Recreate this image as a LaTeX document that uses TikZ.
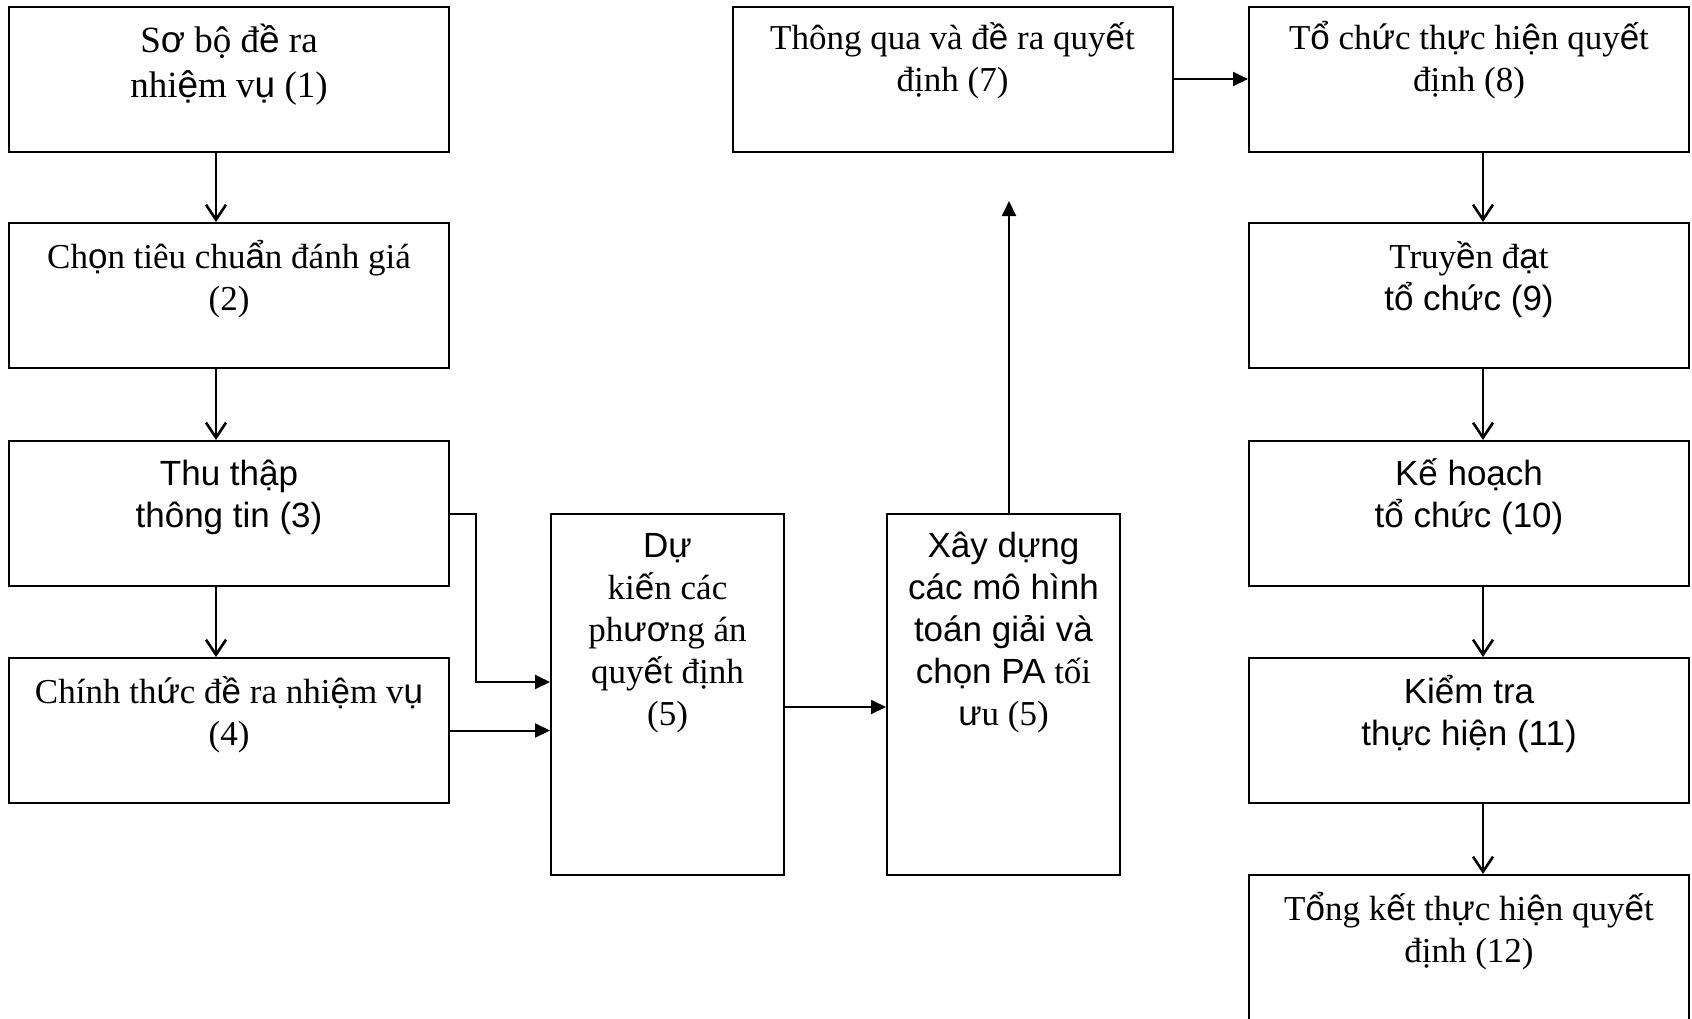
\documentclass[tikz,border=0pt]{standalone}
\usepackage{fontspec}
\setmainfont{Liberation Serif}
\newfontfamily\sansf{Liberation Sans}
\newcommand{\vn}[1]{{\sansf #1}}
\usetikzlibrary{arrows.meta,positioning}

\begin{document}
\begin{tikzpicture}[x=1pt,y=-1pt,
  box/.style={draw,line width=2pt,inner sep=0pt,minimum width=440pt,minimum height=145pt},
  tallbox/.style={draw,line width=2pt,inner sep=0pt,minimum width=233pt,minimum height=361pt},
  txt/.style={align=center,anchor=base,inner sep=0pt,font=\fontsize{35}{42}\selectfont},
  stxt/.style={txt,font=\fontsize{35}{42}\selectfont\sansf},
  openarr/.style={line width=2pt,-{Straight Barb[length=15pt,width=20pt,line width=2.6pt]}},
  fillarr/.style={line width=2pt,-{Triangle[length=15pt,width=14pt]}}]
\useasboundingbox (0,0) rectangle (1692,1018);

% left column
\node[box] (b1) at (229,79) {};
\node[box] (b2) at (229,295.5) {};
\node[box] (b3) at (229,513.5) {};
\node[box] (b4) at (229,730.5) {};

% middle
\node[tallbox] (b5) at (667.5,694.5) {};
\node[tallbox] (b6) at (1003.5,694.5) {};
\node[box] (b7) at (952.5,79) {};

% right column
\node[box] (b8) at (1469,79) {};
\node[box] (b9) at (1469,295.5) {};
\node[box] (b10) at (1469,513.5) {};
\node[box] (b11) at (1469,730.5) {};
\node[box] (b12) at (1469,947.5) {};

% texts (anchor base = last line)
\node[txt,font=\fontsize{37}{45}\selectfont] (t1) at ([yshift=-92pt]b1.north) {S\vn{ơ} bộ đ\vn{ề} ra\\nhi\vn{ệ}m v\vn{ụ} (1)};
\node[txt] (t2) at ([yshift=-88pt]b2.north) {Ch\vn{ọ}n tiêu chu\vn{ẩ}n đánh giá\\(2)};
\node[stxt] (t3) at ([yshift=-87pt]b3.north) {Thu thập\\thông tin (3)};
\node[txt] (t4) at ([yshift=-88pt]b4.north) {Chính th\vn{ứ}c đ\vn{ề} ra nhi\vn{ệ}m v\vn{ụ}\\(4)};
\node[txt] (t5) at ([yshift=-212pt]b5.north) {\vn{Dự}\\ki\vn{ế}n các\\ph\vn{ươ}ng án\\quy\vn{ế}t định\\(5)};
\node[txt] (t6) at ([yshift=-212pt]b6.north) {\vn{Xây dựng}\\\vn{các mô hình}\\\vn{toán giải và}\\\vn{chọn PA} tối\\\vn{ư}u (5)};
\node[txt] (t7) at ([yshift=-86pt]b7.north) {Thông qua và đ\vn{ề} ra quy\vn{ế}t\\định (7)};
\node[txt] (t8) at ([yshift=-86pt]b8.north) {T\vn{ổ} ch\vn{ứ}c th\vn{ự}c hi\vn{ệ}n quy\vn{ế}t\\định (8)};
\node[txt] (t9) at ([yshift=-88pt]b9.north) {Truy\vn{ề}n đ\vn{ạ}t\\\vn{tổ chức (9)}};
\node[stxt] (t10) at ([yshift=-87pt]b10.north) {Kế hoạch\\tổ chức (10)};
\node[stxt] (t11) at ([yshift=-88pt]b11.north) {Kiểm tra\\thực hiện (11)};
\node[txt] (t12) at ([yshift=-88pt]b12.north) {T\vn{ổ}ng k\vn{ế}t th\vn{ự}c hi\vn{ệ}n quy\vn{ế}t\\định (12)};

% arrows
\draw[openarr] ([xshift=-13pt]b1.south) -- ([xshift=-13pt]b2.north);
\draw[openarr] ([xshift=-13pt]b2.south) -- ([xshift=-13pt]b3.north);
\draw[openarr] ([xshift=-13pt]b3.south) -- ([xshift=-13pt]b4.north);
\draw[openarr] ([xshift=14pt]b8.south) -- ([xshift=14pt]b9.north);
\draw[openarr] ([xshift=14pt]b9.south) -- ([xshift=14pt]b10.north);
\draw[openarr] ([xshift=14pt]b10.south) -- ([xshift=14pt]b11.north);
\draw[openarr] ([xshift=14pt]b11.south) -- ([xshift=14pt]b12.north);

\draw[fillarr] (b3.east) -- ++(26,0) |- ([yshift=12.5pt]b5.west);
\draw[fillarr] (b4.east) -- (b4.east -| b5.west);
\draw[fillarr] ([yshift=-12.5pt]b5.east) -- ([yshift=-12.5pt]b5.east -| b6.west);
\coordinate (up) at (1009,201);
\draw[fillarr] (b6.north -| up) -- (up);
\draw[fillarr] (b7.east) -- (b8.west);

\end{tikzpicture}
\end{document}
